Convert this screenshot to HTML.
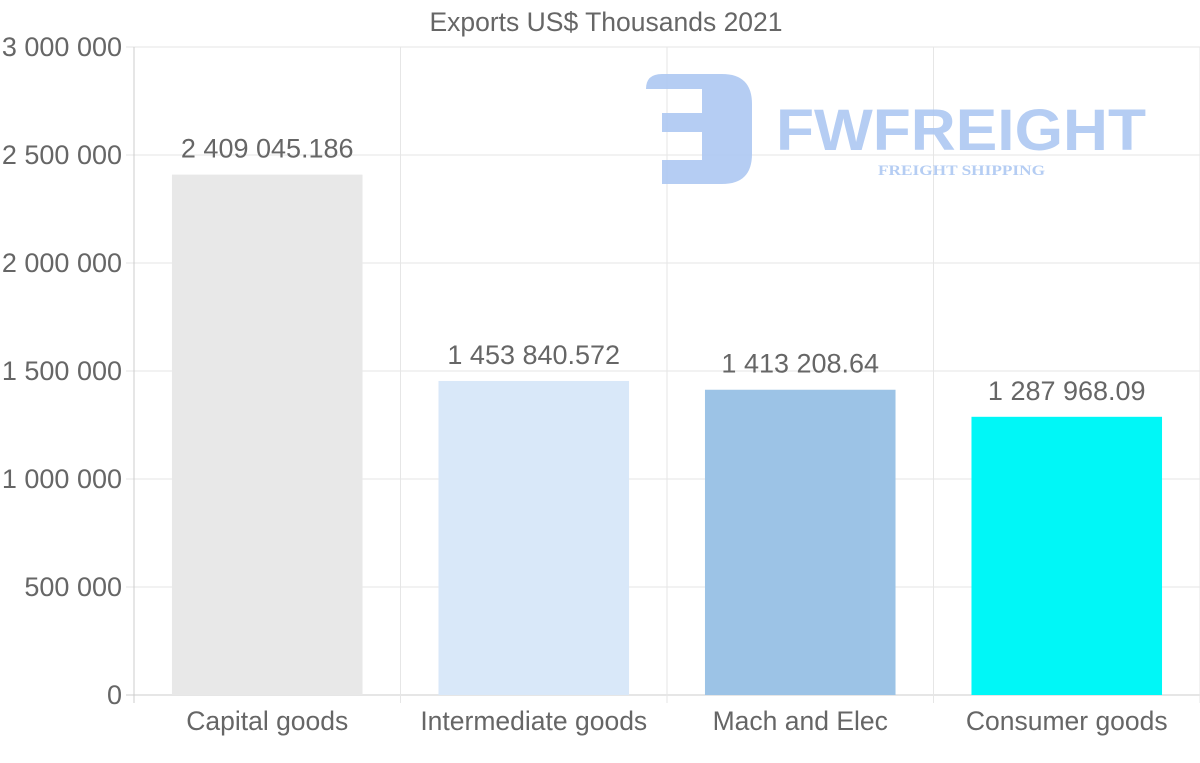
<!DOCTYPE html>
<html><head><meta charset="utf-8"><style>
html,body{margin:0;padding:0;background:#fff;}
svg{display:block;font-family:"Liberation Sans",sans-serif;}
</style></head><body>
<svg id="chart" width="1200" height="763" viewBox="0 0 1200 763">
  <text x="606" y="31" text-anchor="middle" font-size="26.5" fill="#666">Exports US$ Thousands 2021</text>
  <g id="grid"></g>
  <g opacity="0.9">
    <path d="M662,74 H722 Q752,74 752,104 V154 Q752,184 722,184 H662 V160 H702 V132 H662 V113 H702 V89 H646 Q646,74 662,74 Z" fill="#adc8f2"/>
    <text x="776" y="150" font-size="58" font-weight="bold" fill="#adc8f2" textLength="370" lengthAdjust="spacingAndGlyphs">FWFREIGHT</text>
    <text x="878" y="175" font-size="15" font-weight="bold" fill="#adc8f2" font-family="Liberation Serif,serif" textLength="167" lengthAdjust="spacingAndGlyphs">FREIGHT SHIPPING</text>
  </g>
  <g id="bars"></g>
  <g id="axes"></g>
</svg>
<script>
const categories = ["Capital goods","Intermediate goods","Mach and Elec","Consumer goods"];
const values = [2409045.186, 1453840.572, 1413208.64, 1287968.09];
const valueLabels = ["2 409 045.186","1 453 840.572","1 413 208.64","1 287 968.09"];
const colors = ["#e8e8e8","#d9e8f9","#9cc3e6","#00f7f7"];
const yTicks = [0,500000,1000000,1500000,2000000,2500000,3000000];
const yTickLabels = ["0","500 000","1 000 000","1 500 000","2 000 000","2 500 000","3 000 000"];

const NS="http://www.w3.org/2000/svg";
const plotLeft=134,plotRight=1200,plotTop=47,plotBottom=695,yMax=3000000;
const yScale=v=>plotBottom-(v/yMax)*(plotBottom-plotTop);
const band=(plotRight-plotLeft)/categories.length;
const xScale=i=>plotLeft+band*i;
function mk(tag,attrs,parent){const e=document.createElementNS(NS,tag);for(const k in attrs)e.setAttribute(k,attrs[k]);parent.appendChild(e);return e;}
const gridG=document.getElementById('grid'),barsG=document.getElementById('bars'),axesG=document.getElementById('axes');
yTicks.forEach((t,i)=>{
  const l=mk('line',{x1:plotLeft-8,x2:plotRight,y1:yScale(t),y2:yScale(t),stroke:t===0?'#ccc':'#e6e6e6','stroke-width':1},gridG);
  
  
  const tx=mk('text',{x:122,y:yScale(t)+9,'text-anchor':'end','font-size':27,fill:'#666'},axesG);
  tx.textContent=yTickLabels[i];
  
  
});
for(let i=0;i<=categories.length;i++){
  const l=mk('line',{x1:xScale(i),x2:xScale(i),y1:plotTop,y2:plotBottom+8,stroke:i===0?'#ccc':'#e6e6e6','stroke-width':1},gridG);
  
  
}
const bw=band*0.715;
categories.forEach((c,i)=>{
  const cx=xScale(i)+band/2;
  const r=mk('rect',{x:cx-bw/2,y:yScale(values[i]),width:bw,height:plotBottom-yScale(values[i]),fill:colors[i]},barsG);
  
  
  const vl=mk('text',{x:cx,y:yScale(values[i])-17,'text-anchor':'middle','font-size':27,fill:'#666'},barsG);
  vl.textContent=valueLabels[i];
  
  
  const cl=mk('text',{x:cx,y:730,'text-anchor':'middle','font-size':26.5,fill:'#666'},axesG);
  cl.textContent=c;
  
  
});
</script>
</body></html>
